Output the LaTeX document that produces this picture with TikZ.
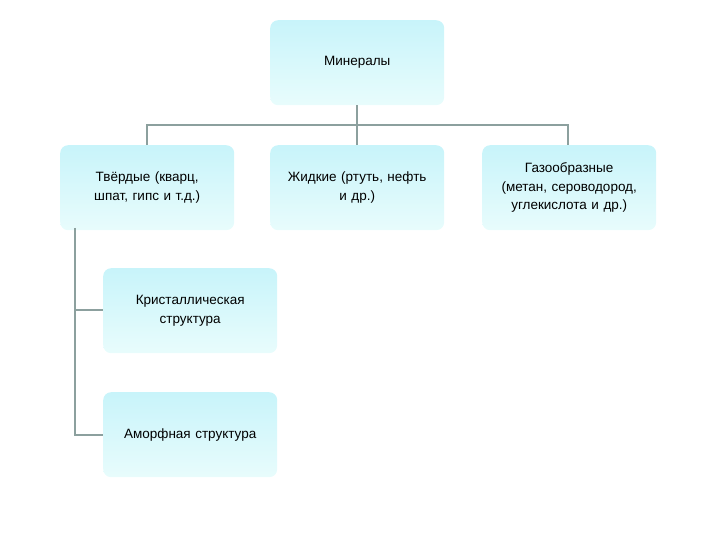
\documentclass[tikz,border=0pt]{standalone}
\usepackage{fontspec}
\setmainfont{Liberation Sans}
\begin{document}
\begin{tikzpicture}[x=1pt,y=-1pt,
  box/.style={rounded corners=8pt,top color={rgb,255:red,200;green,244;blue,250},bottom color={rgb,255:red,232;green,252;blue,252},draw=none,minimum width=174pt,minimum height=85pt,anchor=north west,align=center,font=\fontsize{13.5}{18.5}\selectfont,text width=160pt},
  con/.style={draw={rgb,255:red,140;green,160;blue,158},line width=1.6pt}]
\useasboundingbox (0,0) rectangle (720,540);
\node[box] (m) at (270,20) {Минералы};
\node[box] (t) at (60,145) {Твёрдые (кварц,\\шпат, гипс и т.д.)};
\node[box] (z) at (270,145) {Жидкие (ртуть, нефть\\и др.)};
\node[box] (g) at (482,145) {Газообразные\\(метан, сероводород,\\углекислота и др.)};
\node[box] (k) at (103,268) {Кристаллическая\\структура};
\node[box] (a) at (103,392) {Аморфная структура};
\coordinate (h1) at (147,125);
\coordinate (h3) at (568,125);
\draw[con] (m.south) -- (m.south |- h1);
\draw[con] (t.north -| h1) -- (h1) -- (h3) -- (h3 |- g.north);
\draw[con] (m.south |- h1) -- (z.north);
\coordinate (l1) at (75,228);
\draw[con] (l1) -- (75,435) -- (a.west |- 0,435);
\draw[con] (75,310) -- (k.west |- 0,310);
\end{tikzpicture}
\end{document}
